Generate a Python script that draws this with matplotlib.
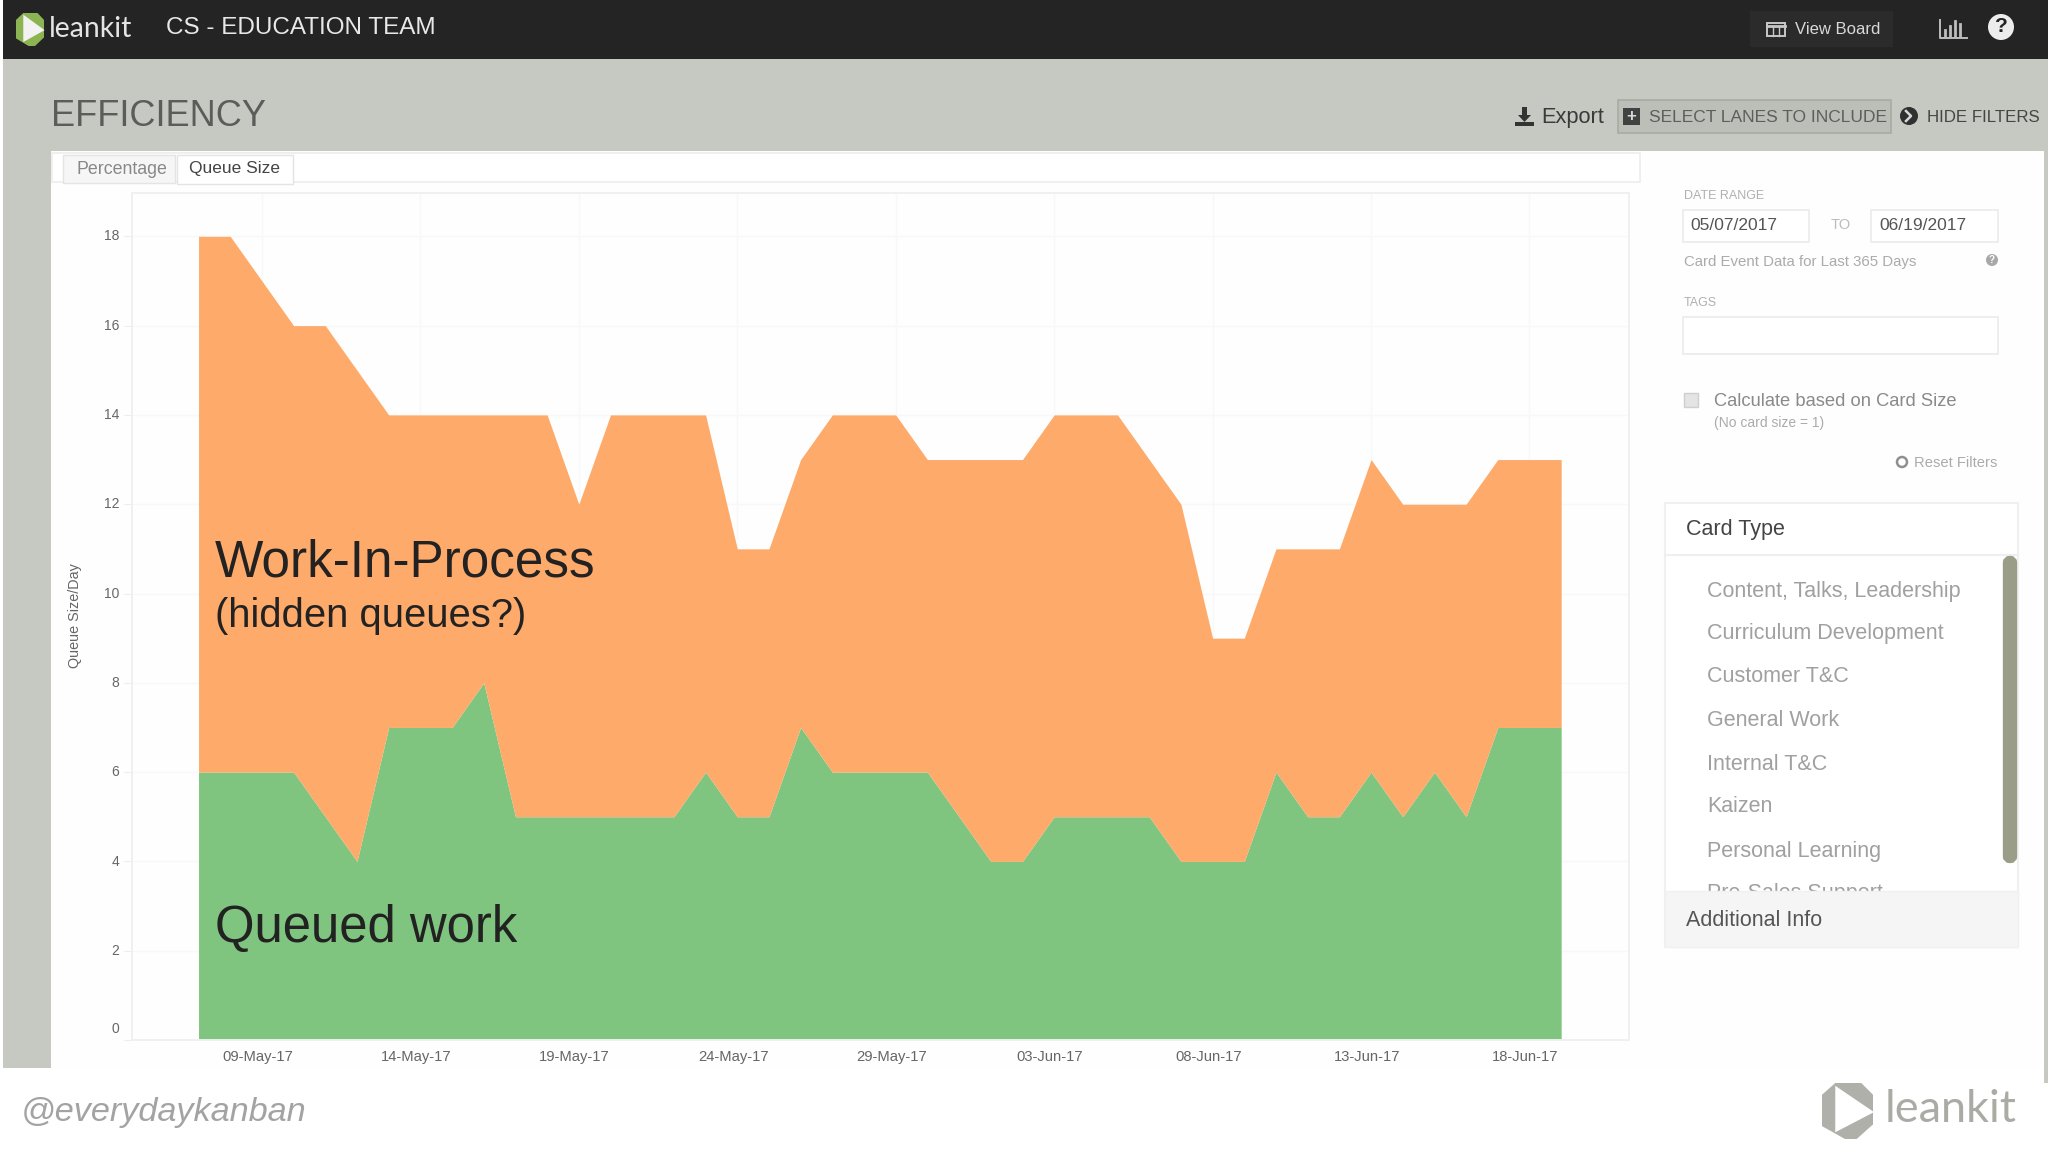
import matplotlib
matplotlib.use('Agg')
import matplotlib.pyplot as plt
import matplotlib.patches as patches
from matplotlib.transforms import ScaledTranslation

# one entry per day, 07-May-17 to 19-Jun-17
queued = [6, 6, 6, 6, 5, 4, 7, 7, 7, 8, 5, 5, 5, 5, 5, 5, 6, 5, 5, 7, 6, 6,
          6, 6, 5, 4, 4, 5, 5, 5, 5, 4, 4, 4, 6, 5, 5, 6, 5, 6, 5, 7, 7, 7]
total = [18, 18, 17, 16, 16, 15, 14, 14, 14, 14, 14, 14, 12, 14, 14, 14, 14, 11, 11, 13, 14, 14,
         14, 13, 13, 13, 13, 14, 14, 14, 13, 12, 9, 9, 11, 11, 11, 13, 12, 12, 12, 13, 13, 13]
tick_days = [2, 7, 12, 17, 22, 27, 32, 37, 42]
tick_labels = ["09-May-17", "14-May-17", "19-May-17", "24-May-17", "29-May-17",
               "03-Jun-17", "08-Jun-17", "13-Jun-17", "18-Jun-17"]
y_ticks = [0, 2, 4, 6, 8, 10, 12, 14, 16, 18]
card_types = ["Content, Talks, Leadership", "Curriculum Development", "Customer T&C", "General Work",
              "Internal T&C", "Kaizen", "Personal Learning", "Pre-Sales Support"]

W, H = 2048, 1152
plt.rcParams['font.family'] = ['Liberation Sans', 'DejaVu Sans']

fig = plt.figure(figsize=(W / 100, H / 100), dpi=100, facecolor="white")

# page chrome is drawn on a full-figure axes in pixel coordinates
bg = fig.add_axes([0, 0, 1, 1], zorder=0)
bg.set_xlim(0, W)
bg.set_ylim(H, 0)
bg.axis("off")


def box(x0, y0, x1, y1, fc="white", ec="none", lw=1.0, z=1):
    bg.add_patch(patches.Rectangle((x0, y0), x1 - x0, y1 - y0, facecolor=fc, edgecolor=ec, linewidth=lw, zorder=z))


def label(x, y, s, size, color, ha="left", z=5, **kw):
    return bg.text(x, y + 2, s, fontsize=size, color=color, ha=ha, va="center", zorder=z, **kw)


def logo(x0, y0, x1, y1, body, mark):
    w, h = x1 - x0, y1 - y0
    hexagon = [(.26, 0), (.77, 0), (1, .21), (1, .74), (.68, 1), (.45, 1), (0, .77), (0, .21)]
    play = [(.26, .05), (1.02, .52), (.26, .88)]
    bg.add_patch(patches.Polygon([(x0 + a * w, y0 + b * h) for a, b in hexagon], facecolor=body, zorder=3))
    bg.add_patch(patches.Polygon([(x0 + a * w, y0 + b * h) for a, b in play], facecolor=mark, zorder=4))


# page background
box(3, 59, W, 1068, fc="#C5C9C1")
box(2044, 1068, W, 1083, fc="#C5C9C1")
box(3, 0, W, 59, fc="#242424")
box(51, 151, 2044, 1068, fc="#FEFEFE", z=2)
box(0, 1068, 2044, H, fc="white", z=2)
box(0, 1083, W, H, fc="white", z=2)

# header bar
logo(16, 13, 44, 46, "#8CB453", "#F2F2F2")
label(49, 27, "leankit", 20.4, "#E4E4E4", family="Lato")
label(166, 26, "CS - EDUCATION TEAM", 17.5, "#E8E8E8")
box(1750, 11, 1893, 47, fc="#2B2B2B", z=2)
box(1767, 23, 1785, 36, fc="none", ec="#C8C8C8", lw=1.4, z=3)
bg.plot([1767, 1785], [26, 26], color="#C8C8C8", lw=2, zorder=3)
bg.plot([1773, 1773], [26, 36], color="#C8C8C8", lw=1, zorder=3)
bg.plot([1779, 1779], [26, 36], color="#C8C8C8", lw=1, zorder=3)
label(1795, 27, "View Board", 12, "#D8D8D8")
bg.plot([1940, 1940, 1967], [20, 38, 38], color="#BDBDBD", lw=1.4, zorder=3)
for bar_x, bar_top in zip([1945, 1950, 1955, 1960], [30, 26, 21, 24]):
    bg.plot([bar_x, bar_x], [36, bar_top], color="#BDBDBD", lw=2, zorder=3)
bg.add_patch(patches.Circle((2001, 27), 13, facecolor="#EDEDED", zorder=3))
label(2001, 25, "?", 15, "#242424", ha="center", fontweight="bold")

# title row
label(51, 114, "EFFICIENCY", 26, "#5A5D5A")
bg.add_patch(patches.Polygon([(1518, 115), (1522, 115), (1522, 107), (1527, 107), (1527, 115), (1531, 115), (1524.5, 122)],
                             facecolor="#333333", zorder=3))
box(1515, 122, 1534, 126, fc="#333333", z=3)
label(1541, 115, "Export", 15.7, "#3A3A3A")
box(1618, 100, 1891, 133, fc="#BBBFB7", ec="#A8ABA4", lw=1.2, z=2)
box(1623, 108, 1640, 125, fc="#3F4240", z=3)
label(1631.5, 114, "+", 12, "#D8D8D8", ha="center", fontweight="bold")
label(1649, 115, "SELECT LANES TO INCLUDE", 12.5, "#5C5F5C")
bg.add_patch(patches.Circle((1909, 116), 9, facecolor="#2F302F", zorder=3))
bg.plot([1906, 1911, 1906], [111, 116, 121], color="#D8D8D8", lw=1.8, zorder=4)
label(1927, 115, "HIDE FILTERS", 12.2, "#444644")

# tabs
box(52, 153, 1640, 182, fc="white", ec="#EDEDED", lw=1.2, z=3)
box(63, 155, 175, 183, fc="#F6F6F6", ec="#E4E4E4", lw=1.0, z=3)
box(177, 155, 293, 184, fc="white", ec="#E4E4E4", lw=1.0, z=3)
label(76, 167, "Percentage", 12.8, "#888888")
label(189, 167, "Queue Size", 12.5, "#444444")

# filter panel
label(1684, 194, "DATE RANGE", 9, "#B0B0B0")
box(1683, 210, 1809, 242, fc="white", ec="#EBEBEB", lw=1.2, z=3)
box(1871, 210, 1998, 242, fc="white", ec="#EBEBEB", lw=1.2, z=3)
label(1690, 224, "05/07/2017", 12.5, "#555555")
label(1841, 223, "TO", 10.5, "#BBBBBB", ha="center")
label(1879, 224, "06/19/2017", 12.5, "#555555")
label(1684, 260, "Card Event Data for Last 365 Days", 10.8, "#ABABAB")
bg.add_patch(patches.Circle((1992, 260), 6, facecolor="#A8A8A8", zorder=3))
label(1992, 258, "?", 7, "white", ha="center", fontweight="bold")
label(1684, 301, "TAGS", 9, "#B0B0B0")
box(1683, 317, 1998, 354, fc="white", ec="#EBEBEB", lw=1.2, z=3)
box(1684, 393, 1698, 407, fc="#E4E4E4", ec="#CFCFCF", lw=1.0, z=3)
label(1714, 399, "Calculate based on Card Size", 13.2, "#8A8A8A")
label(1714, 421, "(No card size = 1)", 10, "#ABABAB")
bg.add_patch(patches.Circle((1902, 462), 5, facecolor="none", edgecolor="#8F8F8F", linewidth=1.8, zorder=3))
label(1997, 461, "Reset Filters", 10.6, "#ABABAB", ha="right")

# card type list
box(1665, 503, 2018, 947, fc="white", ec="#F0F0F0", lw=1.5, z=3)
bg.plot([1665, 2018], [555, 555], color="#EFEFEF", lw=1.5, zorder=4)
label(1686, 528, "Card Type", 15.5, "#444444")
for card_type, y_px in zip(card_types, [589, 632, 675, 719, 762, 805, 849, 892]):
    label(1707, y_px, card_type, 15.5, "#A0A0A0", z=4)
bg.add_patch(patches.FancyBboxPatch((2007, 560), 6, 299, boxstyle="round,pad=0,rounding_size=3",
                                    facecolor="#9A9E88", edgecolor="#9A9E88", linewidth=6, zorder=4))
box(1665, 891, 2018, 947, fc="#F5F5F5", ec="#F0F0F0", lw=1.0, z=6)
label(1686, 919, "Additional Info", 15.5, "#555555", z=7)

# footer
label(21, 1110, "@everydaykanban", 24.7, "#A3A3A3", style="italic")
logo(1822, 1083, 1873, 1139, "#B0B0AA", "white")
label(1885, 1108, "leankit", 32.5, "#ABABA6", family="Lato")

# chart axes: plot box runs 132..1629 x 193..1040 px
ax = fig.add_axes([132 / W, 1 - 1040 / H, (1629 - 132) / W, (1040 - 193) / H], zorder=1)
ax.patch.set_alpha(0)
days = list(range(len(queued)))
ax.fill_between(days, 0, queued, color="#7FC57F", linewidth=0, zorder=2)
ax.fill_between(days, queued, total, color="#FDAA6A", linewidth=0, zorder=2)
ax.set_xlim(-2.1, 45.14)
ax.set_ylim(0, 18.97)
ax.set_xticks(tick_days)
ax.set_xticklabels(tick_labels, fontsize=10.6, color="#666666")
ax.set_yticks(y_ticks)
ax.set_yticklabels(y_ticks, fontsize=10, color="#666666")
ax.tick_params(axis="x", length=0, pad=7)
ax.tick_params(axis="y", length=6, width=0.8, color="#EDEDED", pad=3)
ax.grid(True, color="#F8F8F8", linewidth=1.0, zorder=0)
ax.set_axisbelow(True)
for side in ax.spines.values():
    side.set_color("#F0F0F0")
    side.set_linewidth(1.4)

# the dashboard prints its tick labels a little off the gridlines
for tick in ax.get_xticklabels():
    tick.set_transform(tick.get_transform() + ScaledTranslation(-3 / 72, 0, fig.dpi_scale_trans))
for tick in ax.get_yticklabels():
    tick.set_transform(tick.get_transform() + ScaledTranslation(0, 1 / 72, fig.dpi_scale_trans))
ax.get_yticklabels()[0].set_transform(ax.get_yticklabels()[0].get_transform()
                                      + ScaledTranslation(0, 8 / 72, fig.dpi_scale_trans))

ax.text(75, 616, "Queue Size/Day", transform=bg.transData, rotation=90, fontsize=10.4, color="#666666",
        ha="center", va="center")

# slide annotations on top of the areas
ax.text(215, 563, "Work-In-Process", transform=bg.transData, fontsize=36.9, color="#222222", va="center", zorder=5)
ax.text(215, 616, "(hidden queues?)", transform=bg.transData, fontsize=28.8, color="#222222", va="center", zorder=5)
ax.text(215, 928, "Queued work", transform=bg.transData, fontsize=36.6, color="#222222", va="center", zorder=5)

fig.savefig("out.png", dpi=100)
plt.close(fig)
